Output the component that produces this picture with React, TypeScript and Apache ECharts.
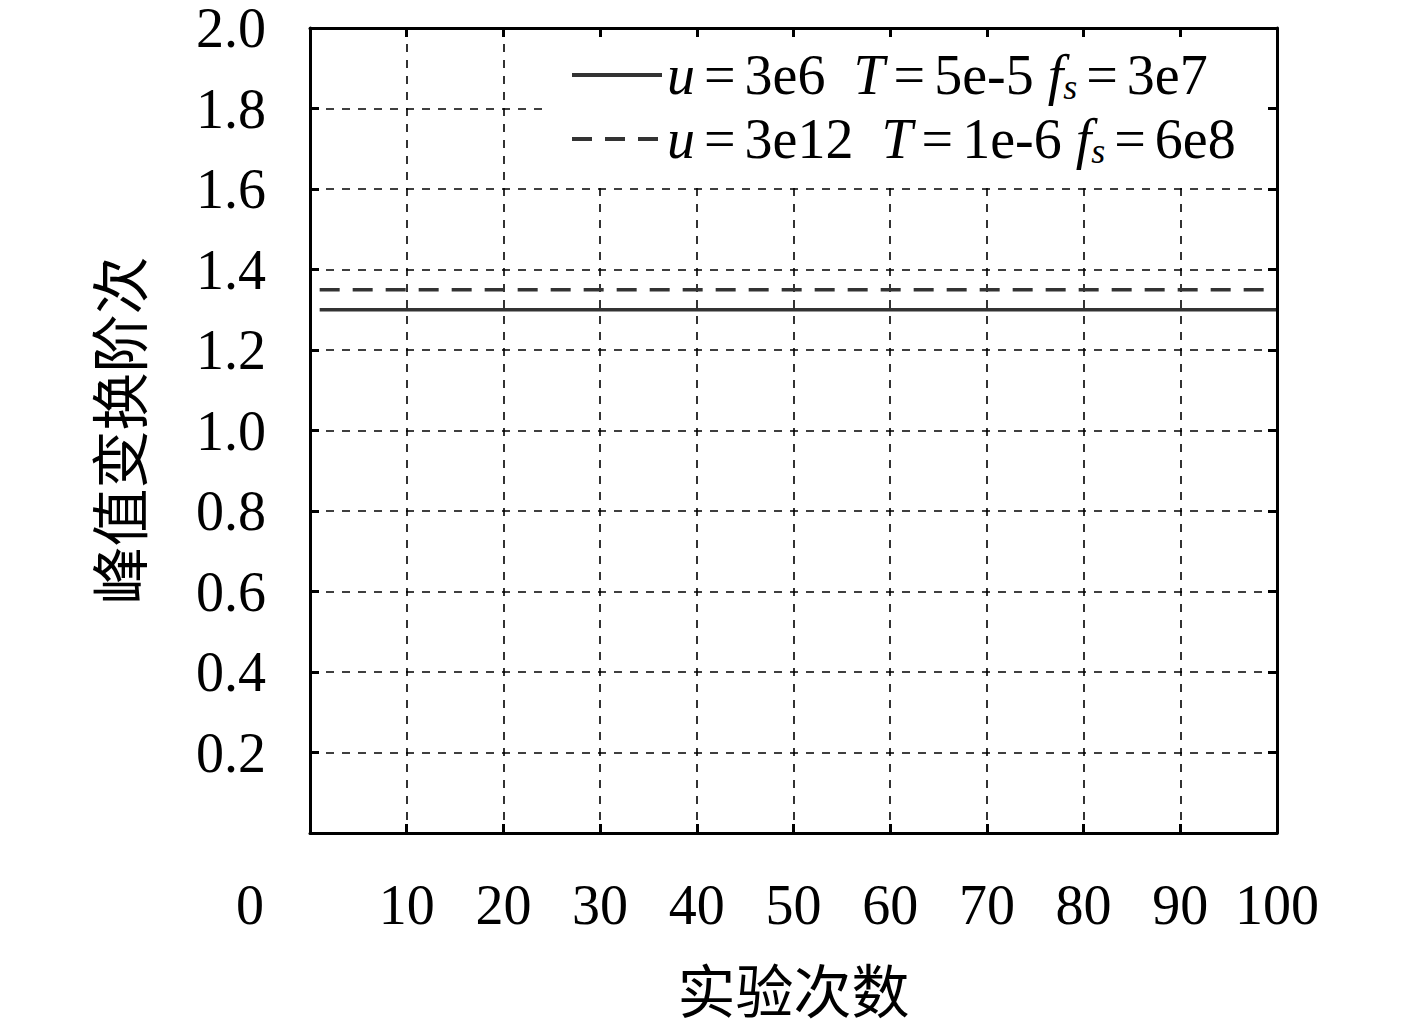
import React, { useEffect, useRef } from "react";
import * as echarts from "echarts";

const runs = [
  1, 2, 3, 4, 5, 6, 7, 8, 9, 10, 11, 12, 13, 14, 15, 16, 17, 18, 19, 20,
  21, 22, 23, 24, 25, 26, 27, 28, 29, 30, 31, 32, 33, 34, 35, 36, 37, 38, 39, 40,
  41, 42, 43, 44, 45, 46, 47, 48, 49, 50, 51, 52, 53, 54, 55, 56, 57, 58, 59, 60,
  61, 62, 63, 64, 65, 66, 67, 68, 69, 70, 71, 72, 73, 74, 75, 76, 77, 78, 79, 80,
  81, 82, 83, 84, 85, 86, 87, 88, 89, 90, 91, 92, 93, 94, 95, 96, 97, 98, 99, 100,
];
const orderA = [
  1.3, 1.3, 1.3, 1.3, 1.3, 1.3, 1.3, 1.3, 1.3, 1.3, 1.3, 1.3, 1.3, 1.3, 1.3, 1.3, 1.3, 1.3, 1.3, 1.3,
  1.3, 1.3, 1.3, 1.3, 1.3, 1.3, 1.3, 1.3, 1.3, 1.3, 1.3, 1.3, 1.3, 1.3, 1.3, 1.3, 1.3, 1.3, 1.3, 1.3,
  1.3, 1.3, 1.3, 1.3, 1.3, 1.3, 1.3, 1.3, 1.3, 1.3, 1.3, 1.3, 1.3, 1.3, 1.3, 1.3, 1.3, 1.3, 1.3, 1.3,
  1.3, 1.3, 1.3, 1.3, 1.3, 1.3, 1.3, 1.3, 1.3, 1.3, 1.3, 1.3, 1.3, 1.3, 1.3, 1.3, 1.3, 1.3, 1.3, 1.3,
  1.3, 1.3, 1.3, 1.3, 1.3, 1.3, 1.3, 1.3, 1.3, 1.3, 1.3, 1.3, 1.3, 1.3, 1.3, 1.3, 1.3, 1.3, 1.3, 1.3,
];
const orderB = [
  1.35, 1.35, 1.35, 1.35, 1.35, 1.35, 1.35, 1.35, 1.35, 1.35, 1.35, 1.35, 1.35, 1.35, 1.35, 1.35, 1.35, 1.35, 1.35, 1.35,
  1.35, 1.35, 1.35, 1.35, 1.35, 1.35, 1.35, 1.35, 1.35, 1.35, 1.35, 1.35, 1.35, 1.35, 1.35, 1.35, 1.35, 1.35, 1.35, 1.35,
  1.35, 1.35, 1.35, 1.35, 1.35, 1.35, 1.35, 1.35, 1.35, 1.35, 1.35, 1.35, 1.35, 1.35, 1.35, 1.35, 1.35, 1.35, 1.35, 1.35,
  1.35, 1.35, 1.35, 1.35, 1.35, 1.35, 1.35, 1.35, 1.35, 1.35, 1.35, 1.35, 1.35, 1.35, 1.35, 1.35, 1.35, 1.35, 1.35, 1.35,
  1.35, 1.35, 1.35, 1.35, 1.35, 1.35, 1.35, 1.35, 1.35, 1.35, 1.35, 1.35, 1.35, 1.35, 1.35, 1.35, 1.35, 1.35, 1.35, 1.35,
];
const seriesNames = ["A", "B"];
const legendParts = [
  ["u", "3e6", "T", "5e-5", "f", "s", "3e7"],
  ["u", "3e12", "T", "1e-6", "f", "s", "6e8"],
];
const xName = "实验次数";
const yName = "峰值变换阶次";

const SERIF = "'Liberation Serif', 'DejaVu Serif', serif";
const CJK = "'Noto Sans CJK SC', sans-serif";
const FS = 56;

export default function App() {
  const ref = useRef<HTMLDivElement>(null);
  useEffect(() => {
    const chart = echarts.init(ref.current!, undefined, { renderer: "svg" });
    const axisLine = () => ({ show: true, onZero: false, lineStyle: { color: "#000", width: 3 } });
    const tick = () => ({ show: true, inside: true, length: 9, lineStyle: { color: "#000", width: 3 } });
    const split = () => ({ show: true, lineStyle: { color: "#000", width: 1.6, type: [8, 8] } });
    const labelStyle = { color: "#000", fontFamily: SERIF, fontSize: FS, lineHeight: 44 };
    const base = { fontFamily: SERIF, fontSize: FS, color: "#000", height: 60 };
    chart.setOption({
      animation: false,
      backgroundColor: "#fff",
      grid: { left: 310, right: 140, top: 27, bottom: 195, containLabel: false },
      graphic: [
        {
          type: "rect",
          z: 2,
          silent: true,
          shape: { x: 546, y: 30, width: 727, height: 152 },
          style: { fill: "#fff" },
        },
      ],
      legend: {
        orient: "vertical",
        left: 545,
        top: 30,
        z: 4,
        padding: [17, 10, 10, 25],
        itemWidth: 90,
        itemHeight: 20,
        itemGap: 6,
        data: seriesNames,
        itemStyle: { opacity: 0 },
        lineStyle: { width: 4 },
        formatter: (name: string) => {
          const p = legendParts[seriesNames.indexOf(name)];
          return `{it|${p[0]}}{eq|=}{n|${p[1]}  }{it|${p[2]}}{eq|=}{n|${p[3]} }{it|${p[4]}}{sub|${p[5]}}{eq|=}{n|${p[6]}}`;
        },
        textStyle: {
          ...base,
          rich: {
            n: { ...base },
            eq: { ...base, padding: [0, 9, 0, 9] },
            it: { ...base, fontStyle: "italic" },
            sub: { fontFamily: SERIF, fontSize: 36, fontStyle: "italic", color: "#000", padding: [24, 0, 0, 0] },
          },
        },
      },
      xAxis: [
        {
          type: "value",
          min: 0,
          max: 100,
          interval: 10,
          z: 0,
          name: xName,
          nameLocation: "middle",
          nameGap: 126,
          nameTextStyle: { color: "#000", fontFamily: CJK, fontSize: 58, lineHeight: 58 },
          axisLine: axisLine(),
          axisTick: tick(),
          splitLine: split(),
          axisLabel: {
            ...labelStyle,
            margin: 50,
            showMinLabel: true,
            showMaxLabel: true,
            formatter: (v: number) => (v === 0 ? "" : String(v)),
          },
        },
        {
          type: "value",
          position: "top",
          min: 0,
          max: 100,
          interval: 10,
          z: 10,
          axisLine: axisLine(),
          axisTick: tick(),
          splitLine: { show: false },
          axisLabel: { show: false },
        },
        {
          type: "value",
          position: "bottom",
          min: 0,
          max: 100,
          interval: 10,
          z: 0,
          axisLine: { show: false, onZero: false },
          axisTick: { show: false },
          splitLine: { show: false },
          axisLabel: {
            ...labelStyle,
            margin: 50,
            showMinLabel: true,
            formatter: (v: number) => (v === 0 ? "{z|0}" : ""),
            rich: { z: { ...labelStyle, padding: [0, 120, 0, 0] } },
          },
        },
      ],
      yAxis: [
        {
          type: "value",
          min: 0,
          max: 2,
          interval: 0.2,
          z: 0,
          name: yName,
          nameLocation: "middle",
          nameGap: 163,
          nameTextStyle: { color: "#000", fontFamily: CJK, fontSize: 58, lineHeight: 60 },
          axisLine: axisLine(),
          axisTick: tick(),
          splitLine: split(),
          axisLabel: {
            ...labelStyle,
            margin: 44,
            formatter: (v: number) => (Math.abs(v) < 1e-9 ? "" : v.toFixed(1)),
          },
        },
        {
          type: "value",
          position: "right",
          min: 0,
          max: 2,
          interval: 0.2,
          z: 10,
          axisLine: axisLine(),
          axisTick: tick(),
          splitLine: { show: false },
          axisLabel: { show: false },
        },
      ],
      series: [
        {
          name: seriesNames[0],
          type: "line",
          xAxisIndex: 0,
          yAxisIndex: 0,
          symbol: "none",
          data: runs.map((x, i) => [x, orderA[i]]),
          lineStyle: { color: "#333", width: 3.5, type: "solid" },
          itemStyle: { color: "#333" },
        },
        {
          name: seriesNames[1],
          type: "line",
          xAxisIndex: 0,
          yAxisIndex: 0,
          symbol: "none",
          data: runs.map((x, i) => [x, orderB[i]]),
          lineStyle: { color: "#333", width: 3.5, type: [20, 13] },
          itemStyle: { color: "#333" },
        },
      ],
    });
    return () => chart.dispose();
  }, []);
  return <div ref={ref} style={{ width: 1417, height: 1028, position: "absolute", left: 0, top: 0 }} />;
}
